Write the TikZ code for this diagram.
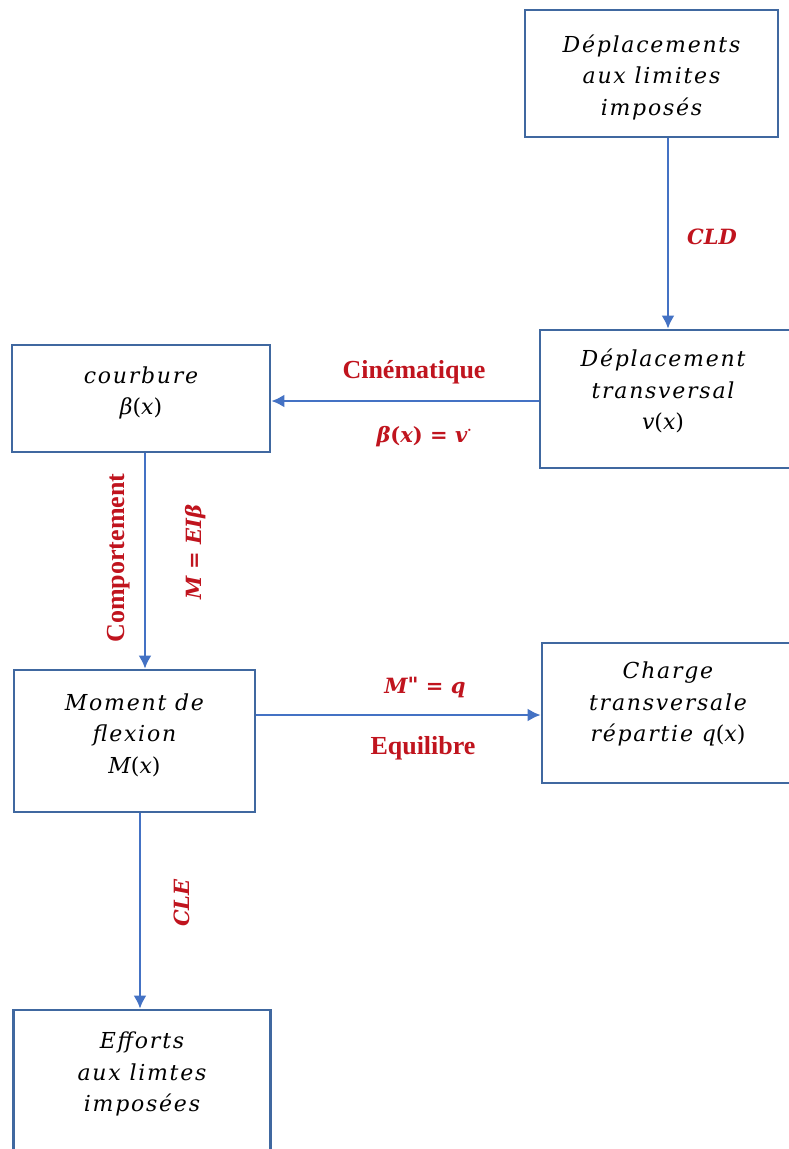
\documentclass[tikz,border=0pt]{standalone}
\usepackage{fontspec}
\newfontfamily\boxfont{DejaVu Serif}[LetterSpace=8]
\newfontfamily\lblfont{Liberation Serif}
\newfontfamily\mathlbl{DejaVu Serif}
\usetikzlibrary{arrows.meta}
\definecolor{boxline}{HTML}{4068A0}
\definecolor{arrowc}{HTML}{4472C4}
\definecolor{lblred}{HTML}{C0141E}
\newcommand{\ui}[1]{{\upshape #1}}
\tikzset{
  box/.style={draw=boxline, line width=2.6pt, fill=white, rectangle, inner sep=0pt},
  btext/.style={align=center, inner sep=0pt, font=\fontsize{22}{31.5}\selectfont\boxfont\itshape},
  conn/.style={draw=arrowc, line width=2.8pt, -{Latex[length=13pt,width=13pt]}},
  lbl/.style={text=lblred, font=\fontsize{26}{28}\selectfont\lblfont\bfseries},
  lbli/.style={text=lblred, font=\fontsize{21}{24}\selectfont\mathlbl\bfseries\itshape}
}
\begin{document}
\begin{tikzpicture}[x=1pt,y=-1pt]
\clip (0,0) rectangle (789,1149);
\fill[white] (0,0) rectangle (789,1149);
\node[box, minimum width=253pt, minimum height=127pt] (A) at (651.5,73.5) {};
\node[btext] (At) at (651.5,77) {Déplacements\\aux limites\\imposés};
\node[box, minimum width=252pt, minimum height=138pt] (B) at (666,399) {};
\node[btext] (Bt) at (663,391) {Déplacement\\transversal\\\textit{v}\ui{(}\textit{x}\ui{)}};
\node[box, minimum width=258pt, minimum height=107pt] (C) at (141,398.5) {};
\node[btext] (Ct) at (141,393) {courbure\\\textit{β}\ui{(}\textit{x}\ui{)}};
\node[box, minimum width=241pt, minimum height=142pt] (D) at (134.5,741) {};
\node[btext] (Dt) at (134.5,735) {Moment de\\flexion\\\textit{M}\ui{(}\textit{x}\ui{)}};
\node[box, minimum width=252pt, minimum height=140pt] (E) at (668,713) {};
\node[btext] (Et) at (668,704) {Charge\\transversale\\répartie \textit{q}\ui{(}\textit{x}\ui{)}};
\node[box, minimum width=257pt, minimum height=160pt] (F) at (142,1090) {};
\node[btext] (Ft) at (142,1074) {Efforts\\aux limtes\\imposées};

\draw[conn] (A.south -| 668,0) -- (B.north -| 668,0);
\node[lbli] (lCLD) at (712,237) {CLD};

\draw[conn] (B.west |- 0,401) -- (C.east |- 0,401);
\node[lbl] (lCin) at (414,372) {Cinématique};
\node[lbli] (lBeta) at (424,437) {β\ui{(}x\ui{)} \ui{=} v\raisebox{8pt}{\ui{\fontsize{12}{12}\selectfont\textbf{·}}}};

\draw[conn] (C.south -| 145,0) -- (D.north -| 145,0);
\node[lbl, rotate=90] (lComp) at (119,558) {Comportement};
\node[lbli, rotate=90] (lMEI) at (196,552) {M \ui{=} EIβ};

\draw[conn] (D.east |- 0,715) -- (E.west |- 0,715);
\node[lbli] (lMq) at (425,688) {M\raisebox{1pt}{\ui{"}} \ui{=} q};
\node[lbl] (lEq) at (423,748) {Equilibre};

\draw[conn] (D.south -| 140,0) -- (F.north -| 140,0);
\node[lbli, rotate=90] (lCLE) at (182,903) {CLE};
\end{tikzpicture}
\end{document}
